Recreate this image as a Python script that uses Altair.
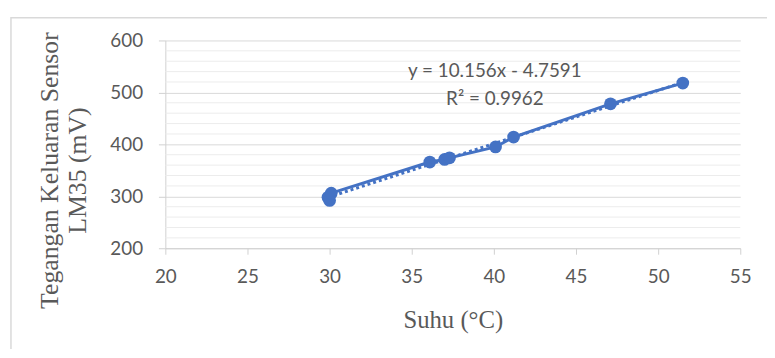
import altair as alt
import pandas as pd

# Data
suhu = [29.9, 30.0, 30.1, 36.1, 37.0, 37.3, 40.1, 41.2, 47.1, 51.5]
tegangan = [298, 292, 306, 366, 371, 374, 395, 414, 478, 518]
x_ticks = [20, 25, 30, 35, 40, 45, 50, 55]
y_ticks = [200, 300, 400, 500, 600]
minor_grid = [220, 240, 260, 280, 320, 340, 360, 380, 420, 440, 460, 480, 520, 540, 560, 580]
annotation = ["y = 10.156x - 4.7591", "R² = 0.9962"]

BLUE = "#4472C4"
GREY_TXT = "#595959"
W, H = 581, 210

df = pd.DataFrame({"x": suhu, "y": tegangan})

xs = alt.Scale(domain=[20, 55], nice=False, zero=False)
ys = alt.Scale(domain=[200, 600], nice=False, zero=False)

x_axis = alt.Axis(
    values=x_ticks,
    title="Suhu (°C)",
    grid=False,
    domainColor="#d0d0d0",
    tickColor="#d0d0d0",
    tickSize=6,
    labelFlush=False,
    labelPadding=14,
    labelFont="Lato",
    labelFontSize=19,
    labelColor=GREY_TXT,
    titleFont="Liberation Serif",
    titleFontSize=25,
    titleFontWeight="normal",
    titleColor=GREY_TXT,
    titleBaseline="middle",
    titleY=72,
)
y_axis = alt.Axis(
    values=y_ticks,
    title=["Tegangan Keluaran Sensor", "LM35 (mV)"],
    grid=True,
    gridColor="#d9d9d9",
    domainColor="#d0d0d0",
    tickColor="#d0d0d0",
    tickSize=7,
    labelFlush=False,
    labelPadding=16,
    labelFont="Lato",
    labelFontSize=19,
    labelColor=GREY_TXT,
    titleFont="Liberation Serif",
    titleFontSize=26,
    titleFontWeight="normal",
    titleColor=GREY_TXT,
    titleLineHeight=28,
    titleBaseline="middle",
    titleX=-117,
    titleY=131,
)

X = alt.X("x:Q", scale=xs, axis=x_axis)
Y = alt.Y("y:Q", scale=ys, axis=y_axis)

base = alt.Chart(df)

frame = alt.Chart(pd.DataFrame({"k": [0]})).mark_rect(
    fillOpacity=0, stroke="#d9d9d9", strokeWidth=1.5
).encode(x=alt.value(-156), x2=alt.value(700), y=alt.value(-23), y2=alt.value(400))

minor = alt.Chart(pd.DataFrame({"y": minor_grid})).mark_rule(
    color="#ececec", strokeWidth=1
).encode(y=Y, x=alt.value(0), x2=alt.value(W))

trend = base.transform_regression("x", "y").mark_line(
    color=BLUE, strokeWidth=3, strokeDash=[3, 3]
).encode(x=X, y=Y)

line = base.mark_line(color=BLUE, strokeWidth=3).encode(x=X, y=Y, order="x:Q")

points = base.mark_circle(color=BLUE, opacity=1, size=165).encode(x=X, y=Y)

labels = alt.Chart(pd.DataFrame({"k": [0]})).mark_text(
    font="Lato", fontSize=19, color=GREY_TXT, align="center", baseline="middle",
    lineBreak="\n", lineHeight=28,
).encode(
    text=alt.value("\n".join(annotation)),
    x=alt.value(333),
    y=alt.value(31),
)

chart = alt.layer(frame, minor, trend, line, points, labels).properties(
    width=W,
    height=H,
    autosize=alt.AutoSizeParams(type="none"),
    padding={"left": 159, "top": 31, "right": 27, "bottom": 100},
).configure_view(stroke=None)

chart.save("out.html", embed_options={"renderer": "svg", "actions": False})
